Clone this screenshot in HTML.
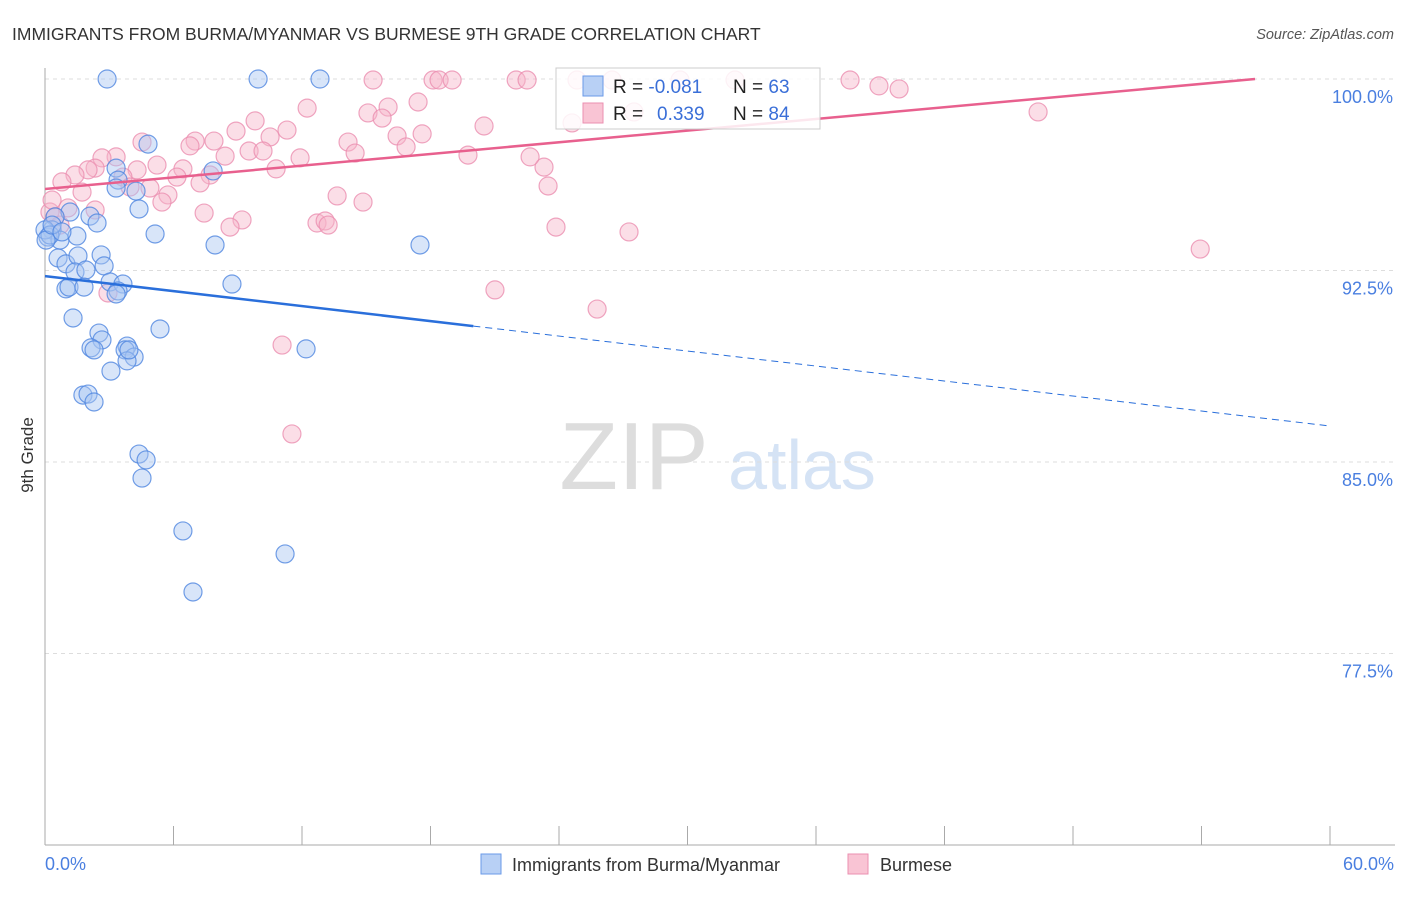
<!DOCTYPE html>
<html><head><meta charset="utf-8"><style>
body{margin:0;background:#fff;font-family:"Liberation Sans",sans-serif}
svg text{font-family:"Liberation Sans",sans-serif}
</style></head><body>
<svg id="chart" width="1406" height="892" viewBox="0 0 1406 892" xmlns="http://www.w3.org/2000/svg">
<text x="12" y="40" font-size="17.5" fill="#333">IMMIGRANTS FROM BURMA/MYANMAR VS BURMESE 9TH GRADE CORRELATION CHART</text>
<text x="1394" y="39" font-size="14.5" fill="#555" font-style="italic" text-anchor="end">Source: ZipAtlas.com</text>
<g>
<text x="634" y="489" font-size="96" font-family="Liberation Serif,serif" fill="#ddd" text-anchor="middle">ZIP</text>
<text x="802" y="489" font-size="70" fill="#d5e3f5" text-anchor="middle">atlas</text>
</g>
<g id="grid"></g>
<g id="axes"></g>
<g id="marks"></g>
<text transform="translate(33,455) rotate(-90)" font-size="17" fill="#333" text-anchor="middle">9th Grade</text>
<text x="45" y="870" font-size="18" fill="#4a7fe0">0.0%</text>
<text x="1394" y="870" font-size="18" fill="#4a7fe0" text-anchor="end">60.0%</text>
<g>
<rect x="556" y="68" width="264" height="61" fill="#fff" fill-opacity="0.85" stroke="#ccc"/>
<rect x="583" y="76" width="20" height="20" fill="#b8d0f5" stroke="#6a9ae8"/>
<rect x="583" y="103" width="20" height="20" fill="#f9c4d4" stroke="#eb8fb0"/>
<text x="613" y="93" font-size="19" fill="#222">R = <tspan fill="#3a6fd8">-0.081</tspan></text>
<text x="733" y="93" font-size="19" fill="#222">N = <tspan fill="#3a6fd8">63</tspan></text>
<text x="613" y="120" font-size="19" fill="#222">R = <tspan fill="#3a6fd8" x="657">0.339</tspan></text>
<text x="733" y="120" font-size="19" fill="#222">N = <tspan fill="#3a6fd8">84</tspan></text>
</g>
<g>
<rect x="481" y="854" width="20" height="20" fill="#b8d0f5" stroke="#6a9ae8"/>
<text x="512" y="871" font-size="18" fill="#333">Immigrants from Burma/Myanmar</text>
<rect x="848" y="854" width="20" height="20" fill="#f9c4d4" stroke="#eb8fb0"/>
<text x="880" y="871" font-size="18" fill="#333">Burmese</text>
</g>
</svg>
<script>
const yTicks=[100,92.5,85,77.5];
const yTickLabels=["100.0%","92.5%","85.0%","77.5%"];
const xTicks=[0,6,12,18,24,30,36,42,48,54,60];
const blueX=[2.9,9.95,12.84,4.81,7.85,3.32,3.41,3.32,4.25,4.39,2.10,2.43,1.17,0.47,0.33,0.14,0.70,1.49,5.14,7.94,17.51,0.61,0.98,1.54,2.62,2.76,1.40,1.91,3.04,3.64,3.41,8.73,0.98,1.12,1.82,1.31,5.37,2.52,2.66,2.15,2.29,3.83,3.74,4.16,3.83,3.08,12.19,1.77,2.01,2.29,4.39,4.72,4.53,6.44,11.21,6.91,0,0.23,0.05,3.32,3.92,0.33,0.79];
const blueY=[100,100,100,97.45,96.40,96.51,96.04,95.73,95.61,94.91,94.63,94.36,94.79,94.60,94.09,93.81,93.69,93.85,93.93,93.50,93.50,92.99,92.76,93.07,93.11,92.68,92.44,92.52,92.05,91.97,91.70,91.97,91.78,91.85,91.85,90.64,90.21,90.05,89.78,89.47,89.39,89.54,89.39,89.11,88.96,88.56,89.43,87.62,87.66,87.35,85.31,85.08,84.37,82.30,81.40,79.91,94.09,93.89,93.69,91.58,89.39,94.28,94.01];
const pinkX=[15.32,18.12,12.24,15.08,16.02,15.74,17.42,16.44,17.61,16.86,9.81,8.92,11.30,10.51,14.15,14.48,11.91,9.53,10.18,7.89,7.01,6.77,8.41,4.53,10.79,6.44,6.16,7.71,5.23,4.30,3.32,2.66,2.34,2.01,1.40,0.79,1.73,3.64,3.97,4.90,5.74,5.46,13.64,14.85,7.43,9.20,8.64,12.70,13.08,13.22,0.23,1.07,0.33,0.47,2.94,11.07,11.53,21.01,25.78,23.86,27.27,53.94,46.37,23.49,23.30,22.65,19.75,20.50,18.40,19.01,22.00,22.51,24.84,26.48,29.65,32.22,37.59,38.94,39.88,24.61,27.50,2.34,0.70,7.24];
const pinkY=[99.96,99.96,98.86,98.67,98.90,98.47,99.10,97.77,97.85,97.34,98.36,97.96,98.00,97.73,97.53,97.10,96.91,97.18,97.18,97.57,97.57,97.38,96.98,97.53,96.48,96.48,96.16,96.24,96.63,96.44,96.95,96.91,96.51,96.44,96.24,95.97,95.57,96.16,95.77,95.73,95.46,95.18,95.42,95.18,94.75,94.48,94.20,94.36,94.44,94.28,94.79,94.95,95.26,94.60,91.62,89.58,86.10,91.74,90.99,94.20,94.01,93.34,98.71,95.81,96.55,96.95,97.02,98.16,99.96,99.96,99.96,99.96,99.96,99.96,99.96,99.96,99.96,99.73,99.61,98.28,98.71,94.87,94.28,95.93];
const blueTrend=[92.28,86.41]; const blueSolidEnd=20;
const pinkTrend=[95.69,100]; const pinkEnd=56.5;
const sx=v=>45+v/60*1285, sy=v=>79+(100-v)/7.5*191.5;
const NS="http://www.w3.org/2000/svg";
function mk(t,a,p){const e=document.createElementNS(NS,t);for(const k in a)e.setAttribute(k,a[k]);p.appendChild(e);return e;}
const grid=document.getElementById('grid'),axes=document.getElementById('axes'),marks=document.getElementById('marks');
yTicks.forEach((v,i)=>{
 const l=mk('line',{x1:45,x2:1395,y1:sy(v),y2:sy(v),stroke:'#ddd','stroke-dasharray':'4,4'},grid);
 
 
 const t=mk('text',{x:1393,y:sy(v)+24,'font-size':18,fill:'#4a7fe0','text-anchor':'end'},axes);
 t.textContent=yTickLabels[i];
 
 
});
const ax=mk('line',{x1:45,x2:45,y1:68,y2:845,stroke:'#aaa'},axes);


const bx=mk('line',{x1:45,x2:1395,y1:845,y2:845,stroke:'#aaa'},axes);


xTicks.forEach(v=>{
 const t=mk('line',{x1:sx(v),x2:sx(v),y1:826,y2:845,stroke:'#aaa'},axes);
 
 
});
function pts(X,Y,fill,stroke,name){X.forEach((x,i)=>{
 const c=mk('circle',{cx:sx(x),cy:sy(Y[i]),r:9,fill:fill,'fill-opacity':0.45,stroke:stroke,'stroke-opacity':0.8,'stroke-width':1.2},marks);
 
 
});}
pts(pinkX,pinkY,'#f7b6ca','#eb8fb0','burmese-point');
pts(blueX,blueY,'#a9c6f2','#4f86e0','burma-point');
const by=x=>blueTrend[0]+(blueTrend[1]-blueTrend[0])*x/60;
let l1=mk('line',{x1:sx(0),y1:sy(by(0)),x2:sx(blueSolidEnd),y2:sy(by(blueSolidEnd)),stroke:'#2a6fdb','stroke-width':2.5},marks);


let l2=mk('line',{x1:sx(blueSolidEnd),y1:sy(by(blueSolidEnd)),x2:sx(60),y2:sy(by(60)),stroke:'#2a6fdb','stroke-width':1,'stroke-dasharray':'7,5'},marks);


const py=x=>pinkTrend[0]+(pinkTrend[1]-pinkTrend[0])*x/pinkEnd;
let l3=mk('line',{x1:sx(0),y1:sy(py(0)),x2:sx(pinkEnd),y2:sy(py(pinkEnd)),stroke:'#e8608e','stroke-width':2.5},marks);


</script>
</body></html>
